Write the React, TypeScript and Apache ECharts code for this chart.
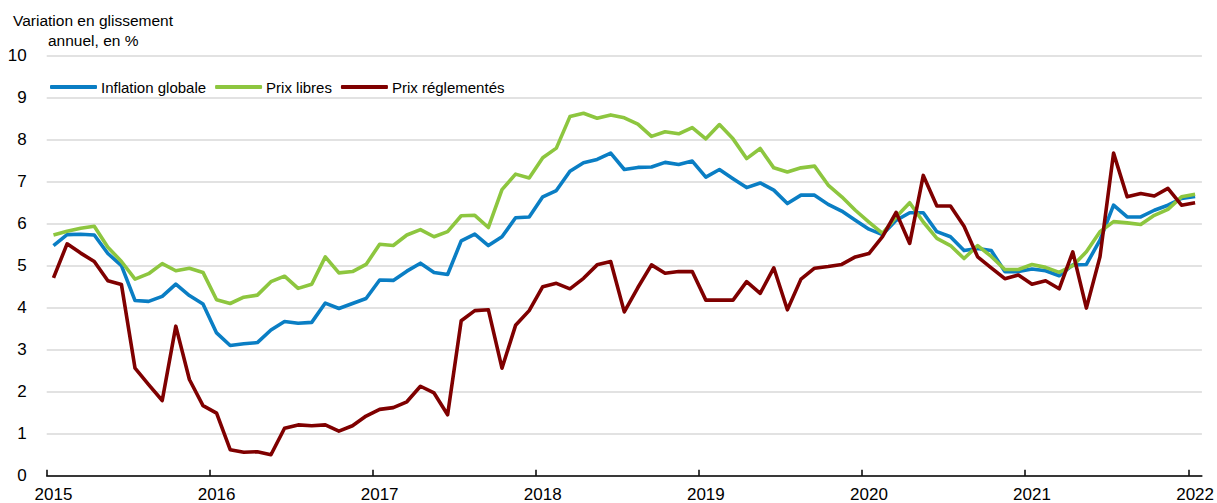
import { useEffect, useRef } from 'react';
import * as echarts from 'echarts';

const years = [2015, 2016, 2017, 2018, 2019, 2020, 2021, 2022];
const monthCodes = ['01', '02', '03', '04', '05', '06', '07', '08', '09', '10', '11', '12'];
const categories: string[] = [];
years.forEach((y) => {
  monthCodes.forEach((m) => {
    if (y < 2022 || m === '01') categories.push(`${y}-${m}`);
  });
});

const yTicks = [0, 1, 2, 3, 4, 5, 6, 7, 8, 9, 10];
const yearTickPositions = [0, 12, 24, 36, 48, 60, 72, 84];

const titleLine1 = 'Variation en glissement';
const titleLine2 = 'annuel, en %';

const inflationGlobale = [
  5.48, 5.74, 5.75, 5.73, 5.29, 5.0, 4.17, 4.15, 4.27, 4.56, 4.29, 4.09,
  3.4, 3.1, 3.14, 3.17, 3.47, 3.67, 3.63, 3.65, 4.11, 3.98, 4.1, 4.22,
  4.66, 4.65, 4.87, 5.06, 4.84, 4.79, 5.59, 5.75, 5.48, 5.69, 6.14, 6.16,
  6.64, 6.79, 7.25, 7.45, 7.53, 7.68, 7.29, 7.34, 7.35, 7.46, 7.41, 7.49,
  7.11, 7.29, 7.07, 6.86, 6.97, 6.8, 6.48, 6.68, 6.68, 6.46, 6.3, 6.08,
  5.87, 5.74, 6.08, 6.26, 6.26, 5.81, 5.69, 5.36, 5.41, 5.36, 4.86, 4.86,
  4.92, 4.88, 4.76, 5.02, 5.03, 5.61, 6.44, 6.16, 6.16, 6.32, 6.44, 6.6,
  6.65,
];

const prixLibres = [
  5.73, 5.82, 5.89, 5.94, 5.44, 5.1, 4.68, 4.81, 5.05, 4.88, 4.94, 4.84,
  4.19, 4.1, 4.25, 4.3, 4.62, 4.75, 4.46, 4.56, 5.21, 4.83, 4.86, 5.03,
  5.51, 5.48, 5.73, 5.86, 5.69, 5.81, 6.19, 6.2, 5.91, 6.81, 7.18, 7.09,
  7.57, 7.8, 8.55, 8.63, 8.51, 8.59, 8.52, 8.37, 8.08, 8.19, 8.14, 8.29,
  8.02, 8.36, 8.02, 7.55, 7.79, 7.33, 7.23, 7.33, 7.37, 6.92, 6.64, 6.32,
  6.04, 5.77, 6.16, 6.5, 6.04, 5.65, 5.48, 5.17, 5.48, 5.22, 4.91, 4.91,
  5.03, 4.96, 4.84, 5.0, 5.33, 5.81, 6.05, 6.02, 5.98, 6.2, 6.34, 6.64,
  6.7,
];

const prixReglementes = [
  4.71, 5.52, 5.3, 5.1, 4.64, 4.55, 2.56, 2.17, 1.79, 3.56, 2.29, 1.67,
  1.49, 0.62, 0.56, 0.57, 0.5, 1.13, 1.21, 1.19, 1.21, 1.06, 1.19, 1.42,
  1.58, 1.62, 1.76, 2.13, 1.97, 1.45, 3.69, 3.93, 3.95, 2.56, 3.58, 3.93,
  4.5, 4.58, 4.45, 4.7, 5.02, 5.1, 3.9, 4.48, 5.02, 4.82, 4.86, 4.86,
  4.18, 4.18, 4.18, 4.62, 4.34, 4.95, 3.95, 4.68, 4.94, 4.98, 5.03, 5.21,
  5.29, 5.69, 6.27, 5.53, 7.15, 6.42, 6.42, 5.94, 5.21, 4.95, 4.69, 4.78,
  4.56, 4.64, 4.45, 5.33, 3.99, 5.21, 7.68, 6.64, 6.72, 6.66, 6.84, 6.44,
  6.5,
];

const seriesNames = ['Inflation globale', 'Prix libres', 'Prix réglementés'];
const seriesColors = ['#0A7EC4', '#8DC63F', '#7F0000'];

const FONT = '"Liberation Sans", Arial, sans-serif';

export default function App() {
  const ref = useRef<HTMLDivElement>(null);

  useEffect(() => {
    if (!ref.current) return;
    const chart = echarts.init(ref.current, undefined, { renderer: 'svg' });
    const dataSets = [inflationGlobale, prixLibres, prixReglementes];
    chart.setOption({
      animation: false,
      textStyle: { fontFamily: FONT, color: '#000' },
      grid: { left: 46.7, right: 14.3, top: 55.7, bottom: 27.3, containLabel: false },
      legend: {
        data: seriesNames,
        left: 50,
        top: 79,
        padding: 0,
        icon: 'roundRect',
        itemWidth: 47,
        itemHeight: 4,
        itemGap: 9,
        itemStyle: { borderWidth: 0 },
        textStyle: { fontFamily: FONT, fontSize: 15, color: '#000', lineHeight: 16, padding: [0, 0, 0, -1] },
      },
      graphic: [
        {
          type: 'text',
          left: 13,
          top: 12,
          style: { text: titleLine1, fontFamily: FONT, fontSize: 15.5, fill: '#000' },
        },
        {
          type: 'text',
          left: 48,
          top: 32,
          style: { text: titleLine2, fontFamily: FONT, fontSize: 15.5, fill: '#000' },
        },
      ],
      xAxis: [
        {
          type: 'category',
          data: categories,
          boundaryGap: true,
          position: 'bottom',
          axisLine: { show: true, lineStyle: { color: '#000', width: 1.5 } },
          axisTick: { show: false },
          splitLine: { show: false },
          axisLabel: {
            interval: 11,
            margin: 10,
            fontSize: 17,
            lineHeight: 17,
            color: '#000',
            fontFamily: FONT,
            formatter: (v: string) => v.slice(0, 4),
          },
        },
        {
          type: 'value',
          min: 0,
          max: categories.length,
          position: 'bottom',
          axisLine: { show: false },
          splitLine: { show: false },
          axisLabel: { show: false },
          axisTick: {
            show: true,
            inside: true,
            length: 6,
            lineStyle: { color: '#000', width: 1.5 },
            customValues: yearTickPositions,
          },
        },
      ],
      yAxis: {
        type: 'value',
        min: yTicks[0],
        max: yTicks[yTicks.length - 1],
        interval: 1,
        axisLine: { show: false },
        axisTick: { show: false },
        axisLabel: { fontSize: 17, color: '#000', margin: 20, fontFamily: FONT },
        splitLine: { lineStyle: { color: '#d9d9d9', width: 1.5 } },
      },
      series: seriesNames.map((name, i) => ({
        name,
        type: 'line',
        xAxisIndex: 0,
        data: dataSets[i],
        showSymbol: false,
        symbol: 'none',
        lineStyle: { width: 3.6, color: seriesColors[i], join: 'round' },
        itemStyle: { color: seriesColors[i] },
        z: 2 + i,
      })),
    });
    return () => chart.dispose();
  }, []);

  return (
    <div
      ref={ref}
      style={{ position: 'fixed', left: 0, top: 0, width: 1217, height: 503, background: '#fff' }}
    />
  );
}
